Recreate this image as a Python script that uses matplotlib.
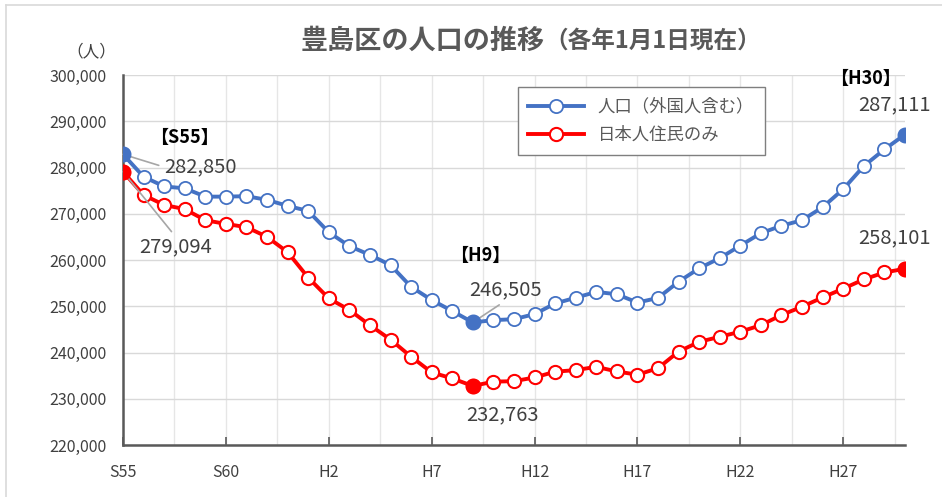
import numpy as np
import matplotlib
matplotlib.use("Agg")
import matplotlib.pyplot as plt
from matplotlib.ticker import FuncFormatter
from matplotlib.lines import Line2D

plt.rcParams['font.family'] = ['Noto Sans CJK JP', 'DejaVu Sans']

# 豊島区の人口（各年1月1日現在） S55〜H30
anos = np.arange(39)
etiquetas_x = ["S55", "S60", "H2", "H7", "H12", "H17", "H22", "H27"]

poblacion_total = [
    282850, 278000, 275900, 275500, 273700, 273700, 273800, 273000, 271700, 270600,
    266000, 263000, 261100, 258900, 254200, 251350, 248970, 246505, 247000, 247200,
    248300, 250600, 251850, 253100, 252600, 250800, 251800, 255300, 258200, 260400,
    263100, 265800, 267400, 268600, 271400, 275300, 280300, 283900, 287111,
]
poblacion_japoneses = [
    279094, 274050, 271900, 271000, 268600, 267800, 267100, 265000, 261700, 256200,
    251700, 249200, 245900, 242800, 239100, 235700, 234400, 232763, 233700, 233800,
    234600, 235850, 236200, 236900, 235900, 235200, 236600, 240200, 242300, 243400,
    244500, 245900, 248100, 249900, 251900, 253800, 255800, 257300, 258101,
]
puntos_destacados = [0, 17, 38]

azul = "#4472C4"
rojo = "#FF0000"
gris = "#595959"

fig = plt.figure(figsize=(9.42, 4.97), dpi=100)
ax = fig.add_axes([0.1306, 0.1046, 0.830, 0.7445])

# marco exterior (solo izquierda y arriba visibles)
fig.add_artist(Line2D([0.006, 0.006], [0, 0.99], color="#d9d9d9", lw=1.2))
fig.add_artist(Line2D([0.006, 1], [0.99, 0.99], color="#d9d9d9", lw=1.2))

ax.plot(anos, poblacion_total, color=azul, lw=2.8, marker="o", ms=9.5,
        mfc="white", mec=azul, mew=1.3, label="人口（外国人含む）", zorder=3)
ax.plot(anos, poblacion_japoneses, color=rojo, lw=2.8, marker="o", ms=9.5,
        mfc="white", mec=rojo, mew=1.5, label="日本人住民のみ", zorder=3)

# puntos rellenos S55, H9, H30
for i in puntos_destacados:
    ax.plot(anos[i], poblacion_total[i], "o", color=azul, ms=10.5, zorder=4)
    ax.plot(anos[i], poblacion_japoneses[i], "o", color=rojo, ms=10.5, zorder=4)

ax.set_xlim(0, 38)
ax.set_ylim(220000, 300000)
ax.set_yticks(np.arange(220000, 300001, 10000))
ax.yaxis.set_major_formatter(FuncFormatter(lambda v, p: f"{int(v):,}"))
ax.set_xticks(np.arange(0, 36, 5))
ax.set_xticklabels(etiquetas_x)
ax.set_xticks(np.arange(2.5, 38, 2.5), minor=True)

ax.grid(axis="y", color="#d9d9d9", lw=1)
ax.grid(axis="x", which="both", color="#e6e6e6", lw=1)
ax.set_axisbelow(True)

ax.tick_params(axis="y", length=0, labelsize=11.5, labelcolor="#404040", pad=12)
ax.tick_params(axis="x", which="major", direction="in", length=6, width=1.2,
               color=gris, labelsize=11.5, labelcolor="#404040", pad=14)
ax.tick_params(axis="x", which="minor", length=0)
for lado in ["top", "right"]:
    ax.spines[lado].set_visible(False)
for lado in ["left", "bottom"]:
    ax.spines[lado].set_color(gris)
    ax.spines[lado].set_linewidth(1.8)

fig.text(0.097, 0.895, "（人）", fontsize=12, color="#404040", ha="center", va="center")

# título
fig.text(0.578, 0.918, "豊島区の人口の推移", fontsize=19.5, fontweight="bold",
         color=gris, ha="right", va="center")
fig.text(0.578, 0.918, "（各年1月1日現在）", fontsize=17, fontweight="bold",
         color=gris, ha="left", va="center")

# etiquetas de datos
c_num = "#404040"
ax.text(3.0, 286600, "【S55】", fontsize=13, fontweight="bold", ha="center", va="center")
ax.annotate("282,850", xy=(0, poblacion_total[0]), xytext=(2.0, 280100),
            fontsize=14.5, color=c_num, ha="left", va="center",
            arrowprops=dict(arrowstyle="-", color="#a6a6a6", lw=1.2,
                            relpos=(0, 0.5), shrinkA=2, shrinkB=0))
ax.annotate("279,094", xy=(0, poblacion_japoneses[0]), xytext=(2.55, 262800),
            fontsize=14.5, color=c_num, ha="center", va="center",
            arrowprops=dict(arrowstyle="-", color="#a6a6a6", lw=1.2,
                            relpos=(0.5, 1), shrinkA=2, shrinkB=0))
ax.text(17.35, 260900, "【H9】", fontsize=13, fontweight="bold", ha="center", va="center")
ax.annotate("246,505", xy=(17, poblacion_total[17]), xytext=(18.6, 253500),
            fontsize=14.5, color=c_num, ha="center", va="center",
            arrowprops=dict(arrowstyle="-", color="#a6a6a6", lw=1.2,
                            relpos=(0.5, 0), shrinkA=2, shrinkB=0))
ax.text(18.45, 226500, "232,763", fontsize=14.5, color=c_num, ha="center", va="center")
ax.text(36.1, 299350, "【H30】", fontsize=13, fontweight="bold", ha="center",
        va="center", clip_on=False)
ax.text(37.5, 293500, "287,111", fontsize=14.5, color=c_num, ha="center", va="center",
        clip_on=False)
ax.text(37.5, 264760, "258,101", fontsize=14.5, color=c_num, ha="center", va="center",
        clip_on=False)

leg = ax.legend(loc="upper left", bbox_to_anchor=(0.494, 0.99), fontsize=12.5,
                frameon=True, fancybox=False, edgecolor="#7f7f7f", framealpha=1,
                handlelength=3.2, borderpad=0.6, labelspacing=0.6)
leg.get_frame().set_linewidth(1.0)
for t in leg.get_texts():
    t.set_color(gris)

fig.savefig("out.png", dpi=100)
